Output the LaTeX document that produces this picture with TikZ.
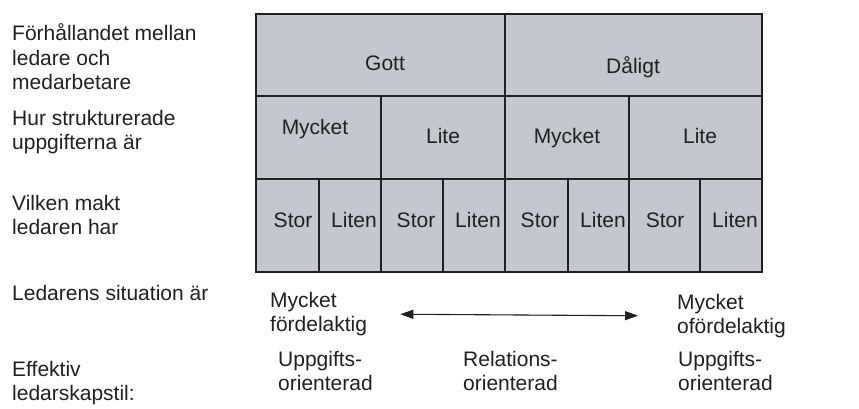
\documentclass[tikz,border=0pt]{standalone}
\usepackage{fontspec}
\setmainfont{Liberation Sans}
\usetikzlibrary{arrows.meta}
\usepackage{xcolor}
\definecolor{cellgray}{RGB}{196,199,206}
\definecolor{inkgray}{RGB}{32,32,32}
\tikzset{
grid/.style={draw=inkgray, line width=1.5pt},
celltext/.style={
  inner sep=0pt,
  text height=15pt,
  text depth=0pt,
  text=inkgray
  },
sidetext/.style={
  inner sep=0pt,
  anchor=west,
  align=left,
  text=inkgray
  },
%pil/.style={-{Triangle}}
}

\begin{document}
\begin{tikzpicture}[x=1pt, y=-1pt, font=\fontsize{21pt}{24.5pt}\selectfont]
    \useasboundingbox (0,0) rectangle (859,408);
    % tabellen
    \fill [cellgray] (256,14) rectangle (762,272);
    \draw [grid] (256,14) rectangle (762,272);
    \draw [grid] (256,96) -- (762,96);
    \draw [grid] (256,179) -- (762,179);
    \draw [grid] (505,14) -- (505,272);
    \foreach \x in {381, 629}
        \draw [grid] (\x,96) -- (\x,272);
    \foreach \x in {319, 443, 568, 700}
        \draw [grid] (\x,179) -- (\x,272);

    \node [celltext] (rel1) at (385,63) {Gott};
    \node [celltext] (rel2) at (633,66) {Dåligt};
    \foreach \x/\y/\t [count=\i] in {315/127/Mycket, 443/136/Lite, 567/136/Mycket, 700/136/Lite}
    {
        \node [celltext] (str\i) at (\x,\y) {\t};
    }
    \foreach \x/\t [count=\i] in {293/Stor, 354/Liten, 416/Stor, 478/Liten, 540/Stor, 603/Liten, 665/Stor, 735/Liten}
    {
        \node [celltext] (mak\i) at (\x,220) {\t};
    }

    % texterna till vänster
    \node [sidetext] (l1) at (12,57) {Förhållandet mellan\\ledare och\\medarbetare};
    \node [sidetext] (l2) at (12,132) {Hur strukturerade\\uppgifterna är};
    \node [sidetext] (l3) at (12,215) {Vilken makt\\ledaren har};
    \node [sidetext] (l4) at (12,293) {Ledarens situation är};
    \node [sidetext] (l5) at (12,383) {Effektiv\\ledarskapstil:};

    % situation och stil
    \node [sidetext] (fav) at (270,314) {Mycket\\fördelaktig};
    \node [sidetext] (ofav) at (677,316) {Mycket\\ofördelaktig};
    \draw [{Triangle[length=13pt,width=9pt]}-{Triangle[length=13pt,width=9pt]}, line width=1.1pt, draw=inkgray, fill=inkgray, shorten <=33pt, shorten >=39pt] (fav.east) -- (ofav.west);

    \node [sidetext] (stil1) at (278,371) {Uppgifts-\\orienterad};
    \node [sidetext] (stil2) at (463,371) {Relations-\\orienterad};
    \node [sidetext] (stil3) at (678,371) {Uppgifts-\\orienterad};
\end{tikzpicture}
\end{document}
